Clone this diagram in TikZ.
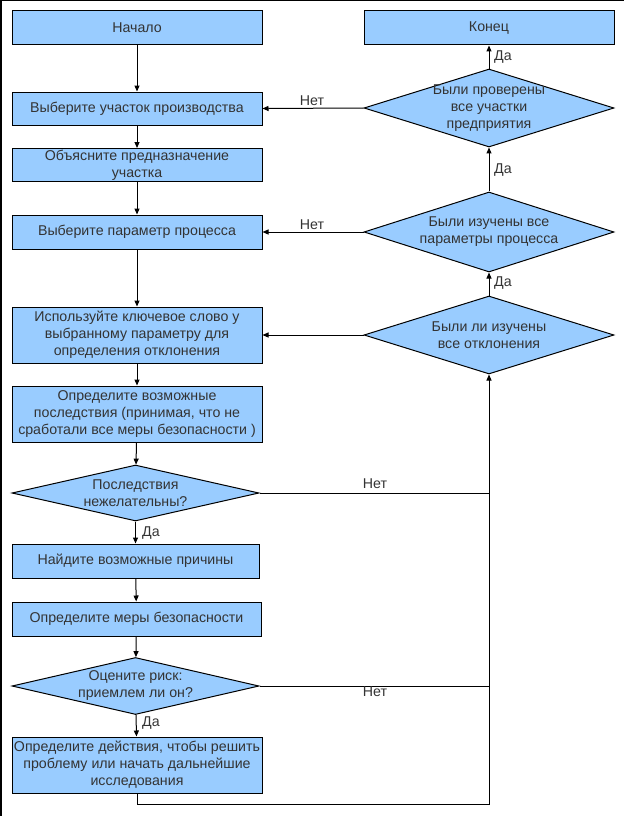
\documentclass[tikz,border=0pt]{standalone}
\usepackage{fontspec}
\setmainfont{Liberation Sans}
\usepackage{tikz}
\usetikzlibrary{shapes.geometric}
\usetikzlibrary{arrows.meta}
\definecolor{boxblue}{HTML}{99CCFF}
\definecolor{txtgray}{HTML}{333333}
\tikzset{
  procbox/.style={draw, line width=1pt, fill=boxblue, text=txtgray, align=center, inner sep=0pt,
    font=\fontsize{14.2pt}{17pt}\selectfont},
  decision/.style={procbox, shape=diamond, aspect=4.4, inner sep=-10pt},
  flow/.style={line width=1pt, -{Triangle[length=6pt,width=5pt]}},
  joint/.style={line width=1pt},
  answer/.style={text=txtgray, inner sep=0pt, font=\fontsize{14.2pt}{16pt}\selectfont}
}
\newcommand{\procnode}[6]{\node[procbox, minimum width=#4pt, minimum height=#5pt] (#1) at ( #2 , #3 ) {#6};}
\newcommand{\decnode}[6]{\node[decision, minimum width=#4pt, minimum height=#5pt] (#1) at ( #2 , #3 ) {#6};}
\newcommand{\answer}[4]{\node[answer, anchor=#3] at ( #1 , #2 ) {#4};}

\begin{document}
\begin{tikzpicture}[x=1pt, y=-1pt]
        \useasboundingbox (0,0) rectangle (624,816);
        \draw[line width=1.5pt] (0.75,816) -- (0.75,0.75) -- (624,0.75);

        % left column
        \procnode{start}{137}{28}{250}{34}{Начало}
        \procnode{area}{137}{108.5}{250}{33}{Выберите участок производства}
        \procnode{purpose}{137}{165}{250}{33}{Объясните предназначение\\участка}
        \procnode{param}{137}{232}{250}{34}{Выберите параметр процесса}
        \procnode{keyword}{137}{335}{250}{56}{Используйте ключевое слово у\\выбранному параметру для\\определения отклонения}
        \procnode{conseq}{137}{414}{250}{56}{Определите возможные\\последствия (принимая, что не\\сработали все меры безопасности )}
        \decnode{undes}{135.5}{493}{247}{56}{Последствия\\нежелательны?}
        \procnode{causes}{135.5}{561}{247}{34}{Найдите возможные причины}
        \procnode{guards}{136.5}{619}{249}{34}{Определите меры безопасности}
        \decnode{risk}{135.5}{686}{247}{57}{Оцените риск:\\приемлем ли он?}
        \procnode{action}{137}{765}{250}{56}{Определите действия, чтобы решить\\проблему или начать дальнейшие\\исследования}

        % right column
        \procnode{finish}{489}{28}{250}{34}{Конец}
        \decnode{areas}{489}{108}{250}{78}{Были проверены\\все участки\\предприятия}
        \decnode{params}{489}{232}{250}{80}{Были изучены все\\параметры процесса}
        \decnode{devs}{489}{335}{250}{78}{Были ли изучены\\все отклонения}
        \coordinate (loop) at (489,804);

        % main flow
        \draw[flow] (start) -- (area);
        \draw[flow] (area) -- (purpose);
        \draw[flow] (purpose) -- (param);
        \draw[flow] (param) -- (keyword);
        \draw[flow] (keyword) -- (conseq);
        \draw[flow] (conseq) -- (undes);
        \draw[flow] (undes) -- (causes);
        \answer{142}{533}{west}{Да}
        \draw[flow] (causes) -- (guards);
        \draw[flow] (guards) -- (risk);
        \draw[flow] (risk) -- (action);
        \answer{142}{723}{west}{Да}

        % back loop
        \draw[flow] (action.south) |- (loop) -- (devs.south);
        \draw[joint] (undes.east) -- (undes.east -| loop);
        \answer{375}{489}{south}{Нет}
        \draw[joint] (risk.east) -- (risk.east -| loop);
        \answer{375}{686.5}{north}{Нет}

        \draw[flow] (devs) -- (params);
        \answer{494}{283}{west}{Да}
        \draw[flow] (params) -- (areas);
        \answer{494}{170}{west}{Да}
        \draw[flow] (areas) -- (finish);
        \answer{494}{57}{west}{Да}

        \draw[flow] (areas.west) -- (area.east);
        \answer{312}{106}{south}{Нет}
        \draw[flow] (params.west) -- (param.east);
        \answer{312}{230}{south}{Нет}
        \draw[flow] (devs.west) -- (keyword.east);

    \end{tikzpicture}
\end{document}
